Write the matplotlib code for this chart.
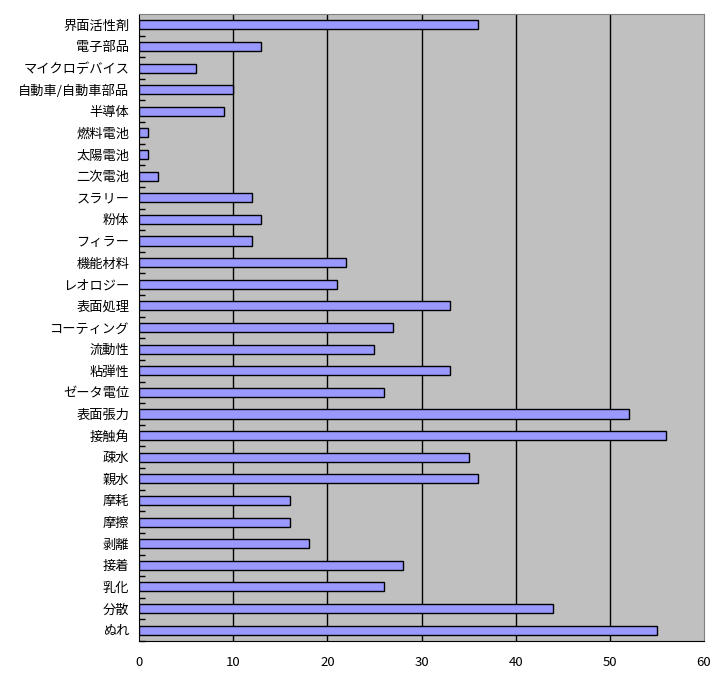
import matplotlib
matplotlib.use('Agg')
import matplotlib.pyplot as plt
import numpy as np

plt.rcParams['font.family'] = ['Noto Sans CJK JP', 'DejaVu Sans']

# categories listed top to bottom, as in the picture
categories = ['界面活性剤', '電子部品', 'マイクロデバイス', '自動車/自動車部品', '半導体',
              '燃料電池', '太陽電池', '二次電池', 'スラリー', '粉体', 'フィラー',
              '機能材料', 'レオロジー', '表面処理', 'コーティング', '流動性', '粘弾性',
              'ゼータ電位', '表面張力', '接触角', '疎水', '親水', '摩耗', '摩擦',
              '剥離', '接着', '乳化', '分散', 'ぬれ']
values = [36, 13, 6, 10, 9, 1, 1, 2, 12, 13, 12, 22, 21, 33, 27, 25, 33, 26,
          52, 56, 35, 36, 16, 16, 18, 28, 26, 44, 55]
xticks = [0, 10, 20, 30, 40, 50, 60]

fig = plt.figure(figsize=(7.28, 6.88), dpi=100)
ax = fig.add_axes([139 / 728, 1 - 641 / 688, (704 - 139) / 728, (641 - 14) / 688])
ax.set_facecolor('#C0C0C0')

n = len(categories)
y = np.arange(n)[::-1]
ax.barh(y, values, height=0.42, color='#9999FF', edgecolor='black', linewidth=1, zorder=3)

ax.set_xlim(0, 60)
ax.set_ylim(-0.5, n - 0.5)
ax.set_xticks(xticks)
ax.set_xticklabels([str(t) for t in xticks], fontsize=9.5)
ax.tick_params(axis='x', length=0, pad=11)
for t in xticks[1:-1]:
    ax.axvline(t, color='black', linewidth=1, zorder=1)

ax.set_yticks(y)
ax.set_yticklabels(categories, fontsize=9.5)
ax.tick_params(axis='y', length=0, pad=7)
ax.set_yticks(np.arange(n) - 0.5, minor=True)
ax.tick_params(axis='y', which='minor', direction='in', length=4, width=1)

ax.spines['left'].set_color('black')
ax.spines['bottom'].set_color('black')
ax.spines['top'].set_color('#808080')
ax.spines['right'].set_color('#808080')

fig.savefig('out.png', dpi=100)
